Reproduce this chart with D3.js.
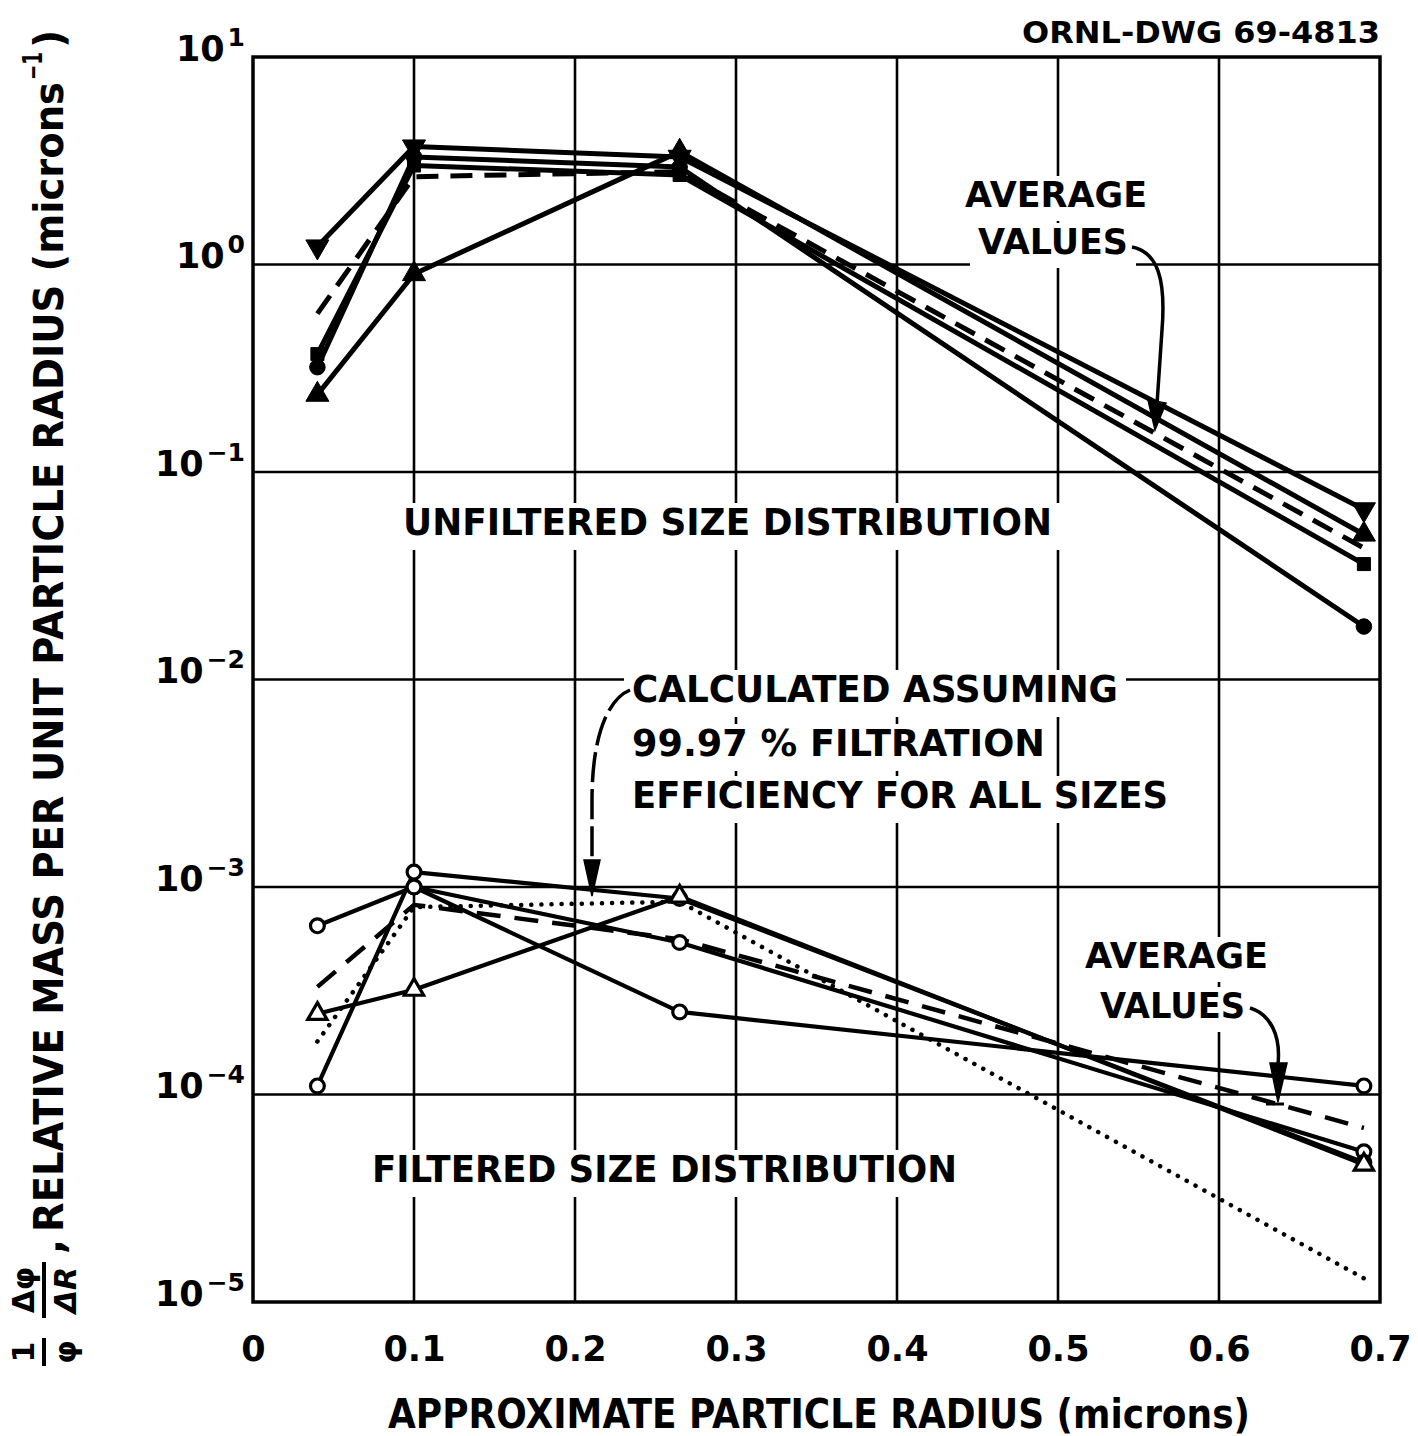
<!DOCTYPE html>
<html><head><meta charset="utf-8">
<script src="https://cdn.jsdelivr.net/npm/d3@7"></script>
<style>body{margin:0;background:#fff} svg{display:block}</style>
</head><body><svg id="c" width="1418" height="1436"></svg>
<script>
// ---------- data ----------
const radii = [0.04, 0.1, 0.265, 0.69];
const xTicks = [0, 0.1, 0.2, 0.3, 0.4, 0.5, 0.6, 0.7];
const xTickLabels = ["0", "0.1", "0.2", "0.3", "0.4", "0.5", "0.6", "0.7"];
const yTicks = [1e1, 1e0, 1e-1, 1e-2, 1e-3, 1e-4, 1e-5];
const yTickExps = ["1", "0", "\u22121", "\u22122", "\u22123", "\u22124", "\u22125"];

// unfiltered size distribution
const unfDown   = [1.22, 3.7, 3.3, 0.066];
const unfUp     = [0.236, 0.9, 3.5, 0.050];
const unfSquare = [0.37, 3.0, 2.7, 0.036];
const unfCircle = [0.32, 3.3, 2.95, 0.018];
const unfAvg    = [0.58, 2.65, 2.8, 0.043];

// filtered size distribution
const filA   = [6.5e-4, 1.0e-3, 5.4e-4, 5.3e-5];
const filB   = [1.1e-4, 1.18e-3, 8.8e-4, 4.7e-5];
const filC   = [2.45e-4, 3.2e-4, 9.0e-4, 4.6e-5];
const filD   = [null, 1.0e-3, 2.5e-4, 1.1e-4];
const filAvg = [3.3e-4, 8.2e-4, 5.6e-4, 6.9e-5];
const filCalc = [1.8e-4, 8.0e-4, 8.5e-4, 1.3e-5];

// ---------- layout ----------
const FONT = "'DejaVu Sans', 'Liberation Sans', sans-serif";
const svg = d3.select("#c");
const L = 253, R = 1380, T = 57, B = 1302;
const x = d3.scaleLinear().domain([0, 0.7]).range([L, R]);
const y = d3.scaleLog().domain([1e-5, 1e1]).range([B, T]);

const gGrid = svg.append("g");
const gBox = svg.append("g");
const gData = svg.append("g");
const gText = svg.append("g");

// grid
gGrid.selectAll(".vg").data(xTicks.slice(1, -1)).join("line")
  .attr("x1", d => x(d)).attr("x2", d => x(d)).attr("y1", T).attr("y2", B)
  .attr("stroke", "#000").attr("stroke-width", 2.6);
gGrid.selectAll(".hg").data(yTicks.slice(1, -1)).join("line")
  .attr("x1", L).attr("x2", R).attr("y1", d => y(d)).attr("y2", d => y(d))
  .attr("stroke", "#000").attr("stroke-width", 2.6);
gGrid.append("rect").attr("x", L).attr("y", T).attr("width", R - L).attr("height", B - T)
  .attr("fill", "none").attr("stroke", "#000").attr("stroke-width", 3.5);

// axes
const xAxis = svg.append("g").attr("transform", `translate(0,${B})`)
  .call(d3.axisBottom(x).tickValues(xTicks).tickFormat((d, i) => xTickLabels[i]).tickSize(0).tickPadding(34));
xAxis.select(".domain").remove();
xAxis.selectAll("text").attr("font-family", FONT).attr("font-weight", "bold")
  .attr("font-size", 35).attr("fill", "#000");

const yAxis = svg.append("g").attr("transform", `translate(${L},0)`)
  .call(d3.axisLeft(y).tickValues(yTicks).tickFormat(() => "").tickSize(0).tickPadding(8));
yAxis.select(".domain").remove();
yAxis.selectAll("text").each(function (d, i) {
  const t = d3.select(this).attr("font-family", FONT).attr("font-weight", "bold").attr("fill", "#000");
  t.append("tspan").attr("font-size", 35).text("10");
  t.append("tspan").attr("font-size", 25).attr("dy", -15).attr("dx", 3).text(yTickExps[i]);
});

// data lines
function drawLine(arr, opts) {
  gData.append("path").datum(arr)
    .attr("d", d3.line().defined(d => d != null).x((d, i) => x(radii[i])).y(d => y(d)))
    .attr("fill", "none").attr("stroke", "#000")
    .attr("stroke-width", opts.w || 4.5)
    .attr("stroke-dasharray", opts.dash || null)
    .attr("stroke-linecap", opts.cap || "butt")
    .attr("stroke-linejoin", "round");
}
function drawMarkers(arr, type, open, rot, size) {
  arr.forEach((v, i) => {
    if (v == null) return;
    gData.append("path")
      .attr("d", d3.symbol().type(type).size(size)())
      .attr("transform", `translate(${x(radii[i])},${y(v)}) rotate(${rot})`)
      .attr("fill", open ? "#fff" : "#000").attr("stroke", "#000").attr("stroke-width", open ? 3.2 : 1);
  });
}

// unfiltered
[unfDown, unfUp, unfSquare, unfCircle].forEach(a => drawLine(a, { w: 5 }));
drawLine(unfAvg, { w: 5, dash: "22 12" });
drawMarkers(unfDown, d3.symbolTriangle, false, 180, 230);
drawMarkers(unfUp, d3.symbolTriangle, false, 0, 230);
drawMarkers(unfSquare, d3.symbolSquare, false, 0, 170);
drawMarkers(unfCircle, d3.symbolCircle, false, 0, 190);

// filtered
[filA, filB, filC, filD].forEach(a => drawLine(a, { w: 4.2 }));
drawLine(filAvg, { w: 4.5, dash: "24 14" });
drawLine(filCalc, { w: 4.5, dash: "0.1 10", cap: "round" });
drawMarkers(filA, d3.symbolCircle, true, 0, 150);
drawMarkers(filB, d3.symbolCircle, true, 0, 150);
drawMarkers(filD, d3.symbolCircle, true, 0, 150);
drawMarkers(filC, d3.symbolTriangle, true, 0, 160);

// annotations
const labels = [
  { t: "ORNL-DWG 69-4813", x: 1022, y: 43, len: 358, fs: 30, box: false },
  { t: "AVERAGE", x: 965, y: 207, len: 182, fs: 36, box: true },
  { t: "VALUES", x: 978, y: 254, len: 150, fs: 36, box: true },
  { t: "UNFILTERED SIZE DISTRIBUTION", x: 403, y: 535, len: 649, fs: 37, box: true },
  { t: "CALCULATED ASSUMING", x: 632, y: 702, len: 486, fs: 37, box: true },
  { t: "99.97 % FILTRATION", x: 632, y: 756, len: 413, fs: 37, box: true },
  { t: "EFFICIENCY FOR ALL SIZES", x: 632, y: 808, len: 536, fs: 37, box: true },
  { t: "AVERAGE", x: 1085, y: 968, len: 183, fs: 36, box: true },
  { t: "VALUES", x: 1100, y: 1018, len: 145, fs: 36, box: true },
  { t: "FILTERED SIZE DISTRIBUTION", x: 372, y: 1182, len: 585, fs: 37, box: true },
  { t: "APPROXIMATE PARTICLE RADIUS (microns)", x: 388, y: 1428, len: 862, fs: 40, box: false }
];
labels.forEach(l => {
  const t = gText.append("text").attr("x", l.x).attr("y", l.y)
    .attr("font-family", FONT).attr("font-weight", "bold").attr("font-size", l.fs)
    .attr("textLength", l.len).attr("lengthAdjust", "spacingAndGlyphs").attr("fill", "#000").text(l.t);
  if (l.box) {
    const bb = t.node().getBBox();
    gBox.append("rect").attr("x", bb.x - 8).attr("y", bb.y + 2).attr("width", bb.width + 16).attr("height", bb.height + 4)
      .attr("fill", "#fff");
  }
});

// arrows
function arrow(d, tip, dash) {
  gText.append("path").attr("d", d).attr("fill", "none").attr("stroke", "#000").attr("stroke-width", 3.5)
    .attr("stroke-dasharray", dash || null);
  gText.append("path").attr("d", tip).attr("fill", "#000").attr("stroke", "#000").attr("stroke-width", 1.5);
}
arrow("M1132,247 C1158,252 1166,280 1162,330 L1157,404", "M1148,400 L1166,403 L1155,430 Z");
arrow("M1250,1008 C1270,1014 1281,1035 1278,1064", "M1270,1063 L1287,1063 L1278,1102 Z");
gText.append("line").attr("x1", 1266).attr("x2", 1284).attr("y1", 1104).attr("y2", 1104).attr("stroke", "#000").attr("stroke-width", 3);
arrow("M630,690 C606,700 592,740 592,800 L592,862", "M584,860 L600,860 L592,896 Z", "30 7");

// y-axis title (rotated)
const gy = svg.append("g").attr("transform", "rotate(-90)");
const tAttr = s => s.attr("font-family", FONT).attr("font-weight", "bold").attr("fill", "#000");
gy.append("text").attr("x", -1232).attr("y", 63).attr("font-size", 40)
  .attr("textLength", 1150).attr("lengthAdjust", "spacingAndGlyphs").call(tAttr)
  .text("RELATIVE MASS PER UNIT PARTICLE RADIUS (microns");
gy.append("text").attr("x", -80).attr("y", 42).attr("font-size", 26).attr("textLength", 28)
  .attr("lengthAdjust", "spacingAndGlyphs").call(tAttr).text("\u22121");
gy.append("text").attr("x", -48).attr("y", 63).attr("font-size", 40).call(tAttr).text(")");
gy.append("text").attr("x", -1254).attr("y", 63).attr("font-size", 40).call(tAttr).text(",");
gy.append("text").attr("x", -1352).attr("y", 34).attr("font-size", 30).attr("text-anchor", "middle").call(tAttr).text("1");
gy.append("line").attr("x1", -1366).attr("x2", -1338).attr("y1", 44).attr("y2", 44).attr("stroke", "#000").attr("stroke-width", 4);
gy.append("text").attr("x", -1352).attr("y", 76).attr("font-size", 30).attr("text-anchor", "middle").call(tAttr).text("\u03c6");
gy.append("text").attr("x", -1290).attr("y", 34).attr("font-size", 30).attr("text-anchor", "middle").call(tAttr).text("\u0394\u03c6");
gy.append("line").attr("x1", -1318).attr("x2", -1262).attr("y1", 44).attr("y2", 44).attr("stroke", "#000").attr("stroke-width", 4);
gy.append("text").attr("x", -1290).attr("y", 76).attr("font-size", 30).attr("text-anchor", "middle")
  .attr("font-style", "italic").call(tAttr).text("\u0394R");
</script></body></html>
